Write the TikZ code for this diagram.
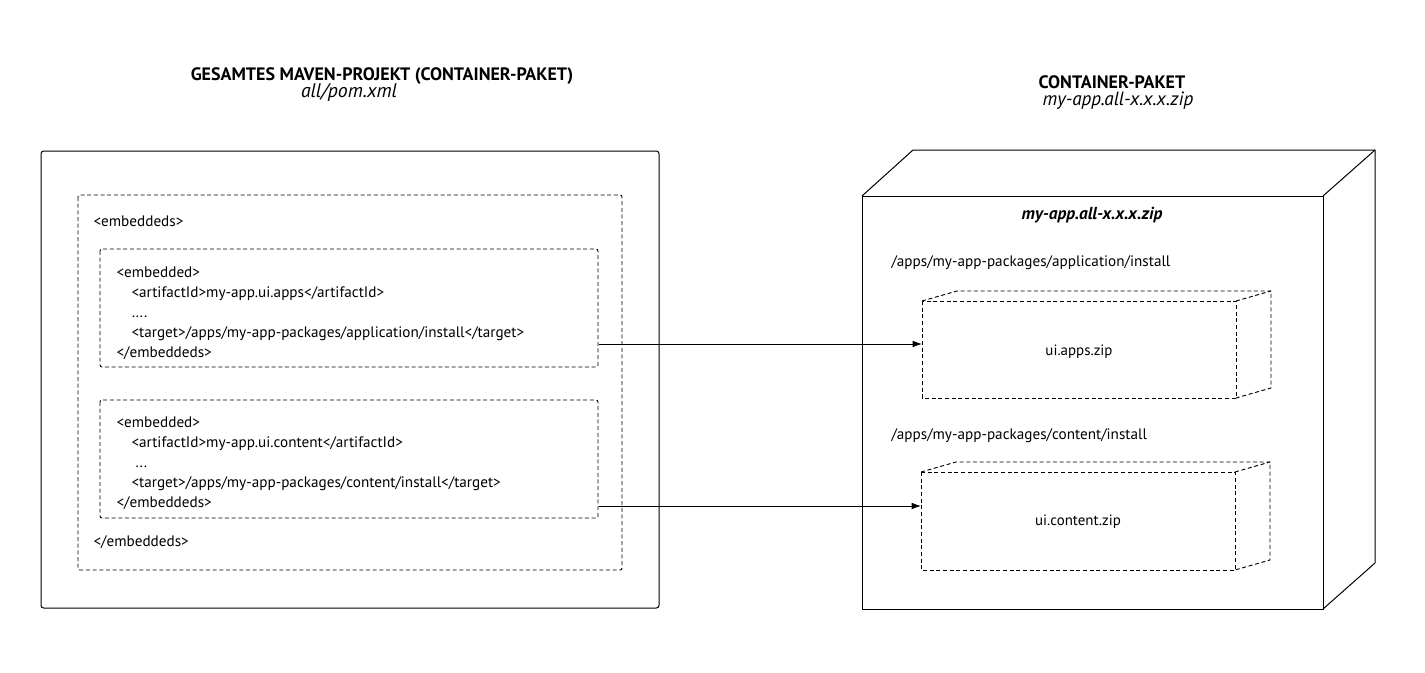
\documentclass[tikz,border=0pt]{standalone}
\usepackage{fontspec}
\setmainfont{PT Sans}
\usetikzlibrary{arrows.meta}
\begin{document}
\begin{tikzpicture}[x=0.75pt,y=-0.75pt, line width=0.75pt,
  dbox/.style={draw, dash pattern=on 3pt off 2pt, line width=0.7pt, rounded corners=1.5pt},
  dline/.style={draw, dash pattern=on 3pt off 2pt, line width=0.7pt},
  code/.style={anchor=base west, inner sep=0pt, font=\fontsize{11.4}{13}\selectfont},
  ttl/.style={anchor=base, inner sep=0pt, font=\fontsize{13.5}{15}\selectfont\bfseries},
  sub/.style={anchor=base, inner sep=0pt, font=\fontsize{14.8}{16}\selectfont\itshape},
  zlab/.style={anchor=base, inner sep=0pt, font=\fontsize{11.2}{13}\selectfont},
  arr/.style={-{Latex[length=7pt,width=5pt]}, line width=0.65pt}]
\useasboundingbox (0,0) rectangle (1425,672);

% titles
\node[ttl] (t1) at (382,80) {GESAMTES MAVEN-PROJEKT (CONTAINER-PAKET)};
\node[sub] (s1) at (349,97) {all/pom.xml};
\node[ttl] (t2) at (1112,88) {CONTAINER-PAKET};
\node[sub, font=\fontsize{14.4}{16}\selectfont\itshape] (s2) at (1118,105) {my-app.all-x.x.x.zip};

% left boxes
\draw[rounded corners=2pt] (41,151) rectangle (659,608);
\draw[dbox] (78,195) rectangle (622,570);
\draw[dbox] (100,249) rectangle (598,367);
\draw[dbox] (100,400) rectangle (598,518);

\node[code] (e0) at (93,226) {<embeddeds>};
\node[code] (a1) at (116,277) {<embedded>};
\node[code] (a2) at (131,297) {<artifactId>my-app.ui.apps</artifactId>};
\node[code] (a3) at (131,317) {….};
\node[code] (a4) at (131,337) {<target>/apps/my-app-packages/application/install</target>};
\node[code] (a5) at (116,357) {</embeddeds>};
\node[code] (b1) at (116,427) {<embedded>};
\node[code] (b2) at (131,447) {<artifactId>my-app.ui.content</artifactId>};
\node[code] (b3) at (135,467) {...};
\node[code] (b4) at (131,487) {<target>/apps/my-app-packages/content/install</target>};
\node[code] (b5) at (116,507) {</embeddeds>};
\node[code] (e9) at (93,546) {</embeddeds>};

% right 3D box
\draw (862,196) rectangle (1323,609);
\draw (862,196) -- (913,150) -- (1375,150) -- (1375,563) -- (1323,609);
\draw (1323,196) -- (1375,150);
\node[anchor=base, inner sep=0pt, font=\fontsize{13}{15}\selectfont\bfseries\itshape] (zt) at (1092,219) {my-app.all-x.x.x.zip};
\node[code] (p1) at (891,266) {/apps/my-app-packages/application/install};
\node[code] (p2) at (891,439) {/apps/my-app-packages/content/install};

% dashed 3D boxes
\draw[dline] (922,301) rectangle (1236,398);
\draw[dline] (922,301) -- (957,291) -- (1271,291) -- (1271,388) -- (1236,398);
\draw[dline] (1236,301) -- (1271,291);
\node[zlab] (z1) at (1079,355) {ui.apps.zip};

\draw[dline] (921,472) rectangle (1235,570);
\draw[dline] (921,472) -- (956,462) -- (1270,462) -- (1270,560) -- (1235,570);
\draw[dline] (1235,472) -- (1270,462);
\node[zlab] (z2) at (1078,525) {ui.content.zip};

% connectors
\coordinate (o1) at (599,344);
\coordinate (i1) at (922,344);
\coordinate (o2) at (599,506);
\coordinate (i2) at (921,506);
\draw[arr] (o1) -- (i1);
\draw[arr] (o2) -- (i2);
\end{tikzpicture}
\end{document}
